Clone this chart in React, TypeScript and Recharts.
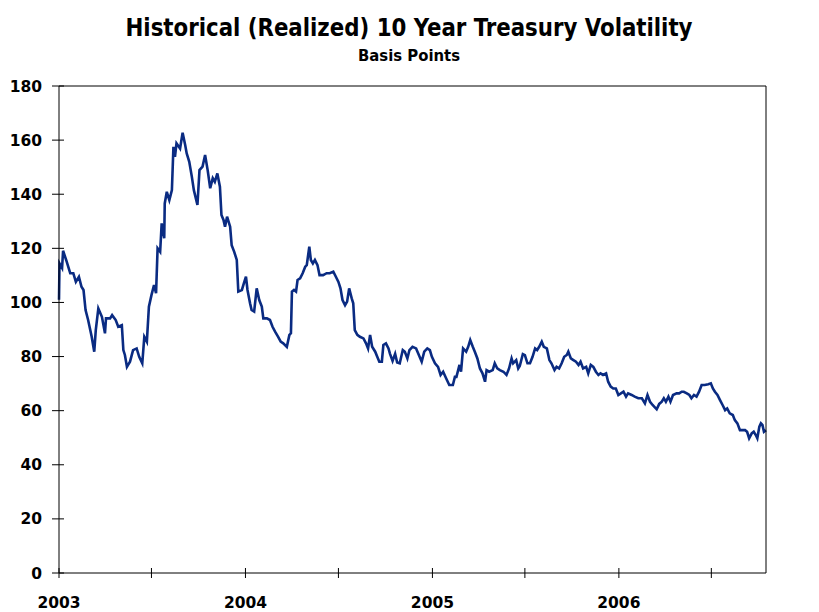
import React from "react";
import { LineChart, Line, XAxis, YAxis, ReferenceLine } from "recharts";

const DAY = 86400000;
const FONT = "'DejaVu Sans', Verdana, sans-serif";
const TITLE_FONT = "'Liberation Sans Narrow', 'DejaVu Sans Condensed', 'Arial Narrow', sans-serif";

// day of year -> realized 10y vol (bp)
const days2003 = [0, 1, 6, 8, 14, 22, 28, 33, 39, 44, 48, 52, 57, 64, 69, 72, 77, 84, 90, 92, 100, 104, 111, 116, 123, 126, 129, 133, 139, 145, 152, 157, 163, 167, 172, 176, 181, 186, 190, 193, 198, 201, 206, 207, 211, 216, 221, 224, 227, 230, 237, 242, 247, 250, 255, 260, 264, 271, 275, 281, 286, 291, 296, 301, 305, 310, 315, 318, 322, 325, 329, 335, 338, 343, 348, 351, 358, 362];
const vol2003 = [101, 114.4, 112.7, 119.1, 115.7, 110.8, 110.8, 107.6, 109.5, 105.8, 104.6, 97.2, 93.5, 87.3, 81.8, 89.8, 97.8, 94.7, 88.6, 94.1, 94.1, 95.3, 93.5, 91.0, 91.6, 82.4, 80.6, 76.2, 78.1, 82.4, 83.0, 79.9, 77.5, 87.3, 85.5, 98.4, 102.7, 106.4, 103.4, 120, 118.7, 129.2, 123.7, 136.6, 140.9, 137.8, 141.5, 157.5, 153.8, 158.8, 156.9, 162.7, 158.2, 155.1, 152.0, 146.5, 141.5, 136.0, 148.9, 150.2, 154.5, 148.9, 142.2, 145.9, 144.6, 147.7, 142.8, 132.3, 130.5, 128, 131.7, 128, 121.2, 118.7, 115.7, 104.0, 104.6, 107.1];

const days2004 = [1, 4, 9, 12, 17, 22, 27, 32, 35, 42, 48, 53, 58, 64, 69, 74, 81, 86, 89, 91, 95, 99, 102, 107, 112, 117, 120, 125, 128, 132, 136, 141, 145, 152, 159, 165, 172, 177, 182, 186, 190, 195, 199, 203, 208, 211, 214, 219, 224, 231, 236, 240, 244, 248, 254, 258, 262, 267, 270, 275, 280, 283, 288, 293, 297, 302, 308, 312, 317, 321, 327, 334, 338, 345, 350, 356, 361, 365];
const vol2004 = [109.5, 104.6, 99.7, 97.2, 96.6, 105.2, 100.9, 98.5, 94.1, 94.1, 93.5, 91.0, 89.2, 87.3, 85.5, 84.9, 83.6, 88.0, 88.6, 104.0, 104.6, 104.0, 108.3, 108.9, 110.8, 113.2, 113.8, 120.6, 115.7, 114.4, 115.7, 113.8, 110.1, 110.1, 110.8, 110.8, 111.4, 109.5, 107.6, 105.2, 100.9, 99.0, 100.3, 105.2, 101.5, 99.7, 89.8, 88.0, 87.3, 86.7, 84.9, 83.0, 88.0, 83.6, 81.8, 79.9, 78.1, 78.1, 84.3, 84.9, 83.0, 81, 78.4, 81, 77.8, 77.5, 82.4, 81.8, 79.3, 82.4, 83.6, 83.0, 81.2, 78.1, 81.8, 83.0, 82.4, 79.9];

const days2005 = [5, 11, 16, 21, 27, 33, 40, 44, 47, 53, 56, 60, 66, 70, 74, 79, 83, 88, 93, 98, 103, 106, 111, 118, 122, 127, 132, 139, 145, 150, 155, 158, 164, 168, 171, 177, 181, 186, 191, 196, 201, 205, 209, 214, 218, 224, 229, 233, 239, 243, 248, 253, 258, 263, 266, 271, 276, 281, 286, 290, 295, 301, 305, 310, 315, 320, 325, 329, 334, 340, 344, 349, 354, 359, 364];
const vol2005 = [77.5, 76.2, 73.2, 74.4, 71.9, 69.5, 69.5, 72.5, 72.5, 76.9, 74.4, 83.0, 81.8, 83.6, 86.1, 83.6, 81.8, 79.3, 75.6, 73.8, 70.7, 75.0, 74.4, 75.0, 77.5, 75.6, 75.0, 74.4, 73.2, 75.6, 79.3, 77.5, 78.7, 75.6, 76.5, 80.9, 80.5, 77.5, 77.5, 79.9, 83.0, 82.4, 83.6, 85.5, 83.6, 83.0, 78.7, 77.5, 75.0, 76.2, 75.6, 77.5, 79.9, 80.6, 81.8, 79.3, 78.7, 78.1, 76.9, 78.1, 75.6, 76.2, 73.8, 76.9, 76.2, 74.4, 73.2, 73.8, 73.2, 73.8, 70.7, 68.9, 68.2, 68.2, 65.8];

const days2006 = [4, 9, 14, 18, 25, 31, 38, 45, 51, 56, 61, 66, 74, 79, 84, 88, 92, 97, 101, 106, 113, 118, 123, 127, 133, 138, 142, 147, 152, 157, 162, 168, 175, 180, 184, 188, 193, 198, 203, 208, 212, 217, 223, 227, 232, 237, 242, 247, 251, 255, 260, 264, 268, 271, 275, 278, 281, 284, 288];
const vol2006 = [66.4, 67.0, 65.2, 66.4, 65.8, 65.2, 64.6, 64.6, 62.7, 65.8, 63.3, 62.1, 60.5, 62.5, 63.3, 64.6, 63.3, 65.2, 63.3, 65.8, 66.4, 66.4, 67.0, 67.0, 66.4, 65.8, 64.6, 65.8, 65.2, 67.0, 69.5, 69.5, 69.8, 70.1, 68.2, 67.0, 65.8, 63.9, 62.1, 60.2, 60.8, 59.0, 58.4, 56.5, 55.3, 52.8, 52.8, 52.8, 52.2, 49.8, 51.6, 52.2, 51.0, 49.8, 54.1, 55.3, 54.7, 52.2, 52.8];

const yTicks = [0, 20, 40, 60, 80, 100, 120, 140, 160, 180];
const tickYears = [2003, 2004, 2005, 2006];

const build = (year: number, days: number[], vols: number[]) =>
  days.map((d, i) => ({ t: Date.UTC(year, 0, 1) + d * DAY, v: vols[i] }));

const data = [
  ...build(2003, days2003, vol2003),
  ...build(2004, days2004, vol2004),
  ...build(2005, days2005, vol2005),
  ...build(2006, days2006, vol2006),
];

const xTicks = tickYears.flatMap((y) => [Date.UTC(y, 0, 1), Date.UTC(y, 6, 1)]);
const xDomain = [Date.UTC(2003, 0, 1), Date.UTC(2006, 0, 1) + 288 * DAY];

const labelStyle = { fontFamily: FONT, fontWeight: 700, fontSize: 15.5, fill: "#000" };

const XTick = (props: any) => {
  const { x, y, payload } = props;
  const d = new Date(payload.value);
  return (
    <g>
      <line x1={x} x2={x} y1={y - 5} y2={y + 5} stroke="#000" />
      {d.getUTCMonth() === 0 && (
        <text x={x} y={y + 35} textAnchor="middle" {...labelStyle}>
          {d.getUTCFullYear()}
        </text>
      )}
    </g>
  );
};

const LeftTick = (props: any) => {
  const { x, y, payload } = props;
  return (
    <g>
      <line x1={x - 7} x2={x + 5} y1={y} y2={y} stroke="#000" />
      <text x={x - 17} y={y} dy="0.36em" textAnchor="end" {...labelStyle}>
        {payload.value}
      </text>
    </g>
  );
};

const RightTick = (props: any) => {
  const { x, y, payload } = props;
  return (
    <g>
      <line x1={x} x2={x + 7} y1={y} y2={y} stroke="#000" />
      <text x={x + 17} y={y} dy="0.36em" textAnchor="start" {...labelStyle}>
        {payload.value}
      </text>
    </g>
  );
};

export default function App() {
  return (
    <div style={{ position: "absolute", left: 0, top: 0, width: 819, height: 612, background: "#fff" }}>
      <svg width={819} height={70} style={{ position: "absolute", left: 0, top: 0 }}>
        <text
          x={409}
          y={36}
          textAnchor="middle"
          fontFamily={TITLE_FONT}
          fontWeight={700}
          fontSize={25}
          textLength={567}
          lengthAdjust="spacingAndGlyphs"
          fill="#000"
        >
          Historical (Realized) 10 Year Treasury Volatility
        </text>
        <text
          x={409}
          y={61}
          textAnchor="middle"
          fontFamily={TITLE_FONT}
          fontWeight={700}
          fontSize={15.5}
          textLength={102}
          lengthAdjust="spacingAndGlyphs"
          fill="#000"
        >
          Basis Points
        </text>
      </svg>
      <LineChart
        width={819}
        height={612}
        data={data}
        margin={{ top: 86, right: 0, bottom: 0, left: 0 }}
        style={{ position: "absolute", left: 0, top: 0 }}
      >
        <XAxis
          dataKey="t"
          type="number"
          scale="time"
          domain={xDomain}
          ticks={xTicks}
          height={39}
          tickSize={0}
          tickMargin={0}
          tickLine={false}
          axisLine={{ stroke: "#000" }}
          tick={<XTick />}
          interval={0}
        />
        <YAxis
          yAxisId="left"
          orientation="left"
          domain={[0, 180]}
          ticks={yTicks}
          width={59}
          tickSize={0}
          tickMargin={0}
          tickLine={false}
          axisLine={{ stroke: "#000" }}
          tick={<LeftTick />}
          interval={0}
        />
        <YAxis
          yAxisId="right"
          orientation="right"
          domain={[0, 180]}
          ticks={yTicks}
          width={53}
          tickSize={0}
          tickMargin={0}
          tickLine={false}
          axisLine={{ stroke: "#000" }}
          tick={<RightTick />}
          interval={0}
        />
        <ReferenceLine yAxisId="left" y={180} stroke="#000" />
        <Line
          yAxisId="left"
          type="linear"
          dataKey="v"
          stroke="#0a2b82"
          strokeWidth={2.6}
          dot={false}
          isAnimationActive={false}
        />
      </LineChart>
    </div>
  );
}
